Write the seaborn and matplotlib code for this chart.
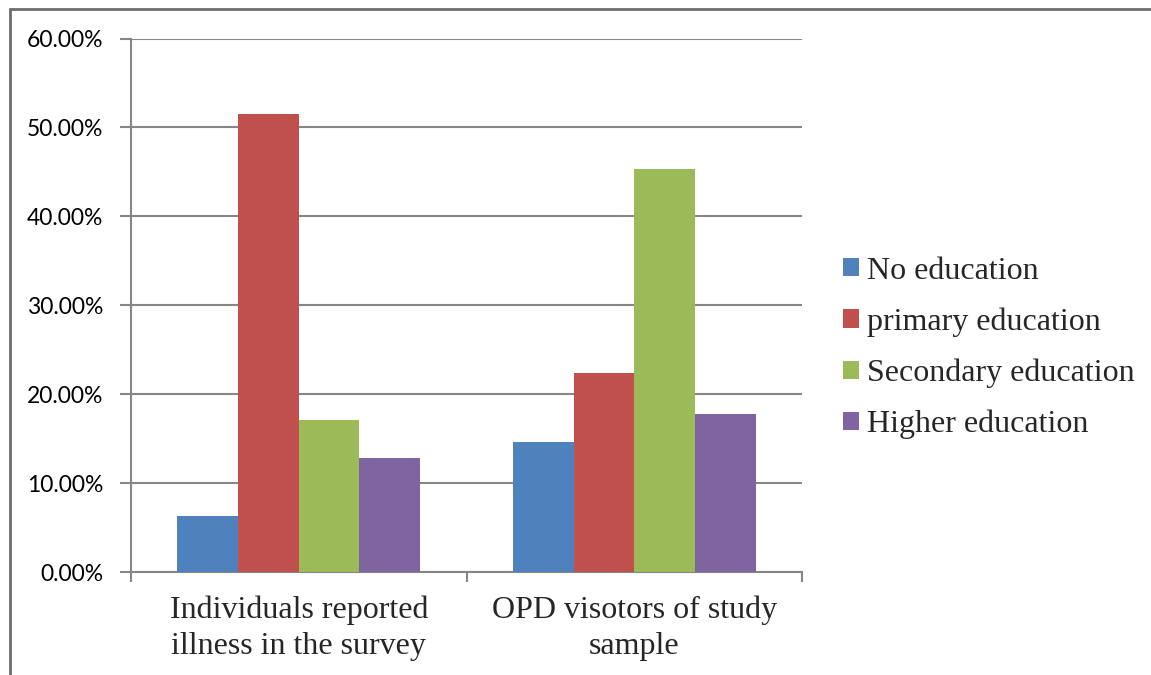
import matplotlib
matplotlib.use("Agg")
import matplotlib.pyplot as plt
from matplotlib.lines import Line2D
from matplotlib.patches import Patch
import seaborn as sns
import pandas as pd

categories = ["Individuals reported\nillness in the survey", "OPD visotors of study\nsample"]
series = ["No education", "primary education", "Secondary education", "Higher education"]
no_edu = [6.36, 14.68]
primary = [51.5, 22.4]
secondary = [17.12, 45.3]
higher = [12.88, 17.79]
colors = ["#4F81BD", "#C0504D", "#9BBB59", "#8064A2"]
yticks = [0, 10, 20, 30, 40, 50, 60]

rows = []
for s, vals in zip(series, [no_edu, primary, secondary, higher]):
    for c, v in zip(categories, vals):
        rows.append({"cat": c, "series": s, "val": v})
df = pd.DataFrame(rows)

sns.set_theme(style="white")
fig = plt.figure(figsize=(11.51, 6.75), dpi=100)
ax = fig.add_axes([131/1151, 1 - 572.3/675, 671/1151, 533.8/675])

sns.barplot(data=df, x="cat", y="val", hue="series", hue_order=series,
            palette=colors, width=0.724, ax=ax, saturation=1, legend=False,
            edgecolor="none", linewidth=0, zorder=3)

grid_c = "#868686"
ax.set_ylim(0, 60)
ax.set_xlim(-0.5, 1.5)
ax.set_yticks(yticks)
ax.set_yticklabels([f"{t:.2f}%" for t in yticks], fontfamily="Lato", fontsize=16.5, color="black")
ax.yaxis.grid(True, color=grid_c, linewidth=1.5, zorder=0)
ax.set_axisbelow(True)
ax.tick_params(axis="y", length=8, width=1.5, color=grid_c, pad=12, left=True)
ax.set_xticks([0, 1])
ax.set_xticklabels(categories, fontfamily="Liberation Serif", fontsize=23, linespacing=1.3)
ax.tick_params(axis="x", which="major", length=0, pad=17)
ax.set_xticks([-0.5, 0.5, 1.5], minor=True)
ax.tick_params(axis="x", which="minor", length=7, width=1.5, color=grid_c, bottom=True)
ax.set_xlabel("")
ax.set_ylabel("")
for side in ["top", "right"]:
    ax.spines[side].set_visible(False)
for side in ["left", "bottom"]:
    ax.spines[side].set_color(grid_c)
    ax.spines[side].set_linewidth(1.5)

handles = [Patch(facecolor=c, edgecolor="none") for c in colors]
fig.legend(handles, series, loc="center left", bbox_to_anchor=(843/1151, 1 - 348/675),
           frameon=False, prop={"family": "Liberation Serif", "size": 23},
           handlelength=0.5, handleheight=0.5, handletextpad=0.25, labelspacing=0.68,
           borderpad=0, borderaxespad=0)

# outer frame lines
fig.add_artist(Line2D([9.5/1151, 9.5/1151], [0, 1 - 8.5/675], transform=fig.transFigure,
                      color="#6d6d6d", linewidth=2))
fig.add_artist(Line2D([9.5/1151, 1], [1 - 8.5/675, 1 - 8.5/675], transform=fig.transFigure,
                      color="#6d6d6d", linewidth=2))

fig.savefig("out.png", dpi=100, facecolor="white")
